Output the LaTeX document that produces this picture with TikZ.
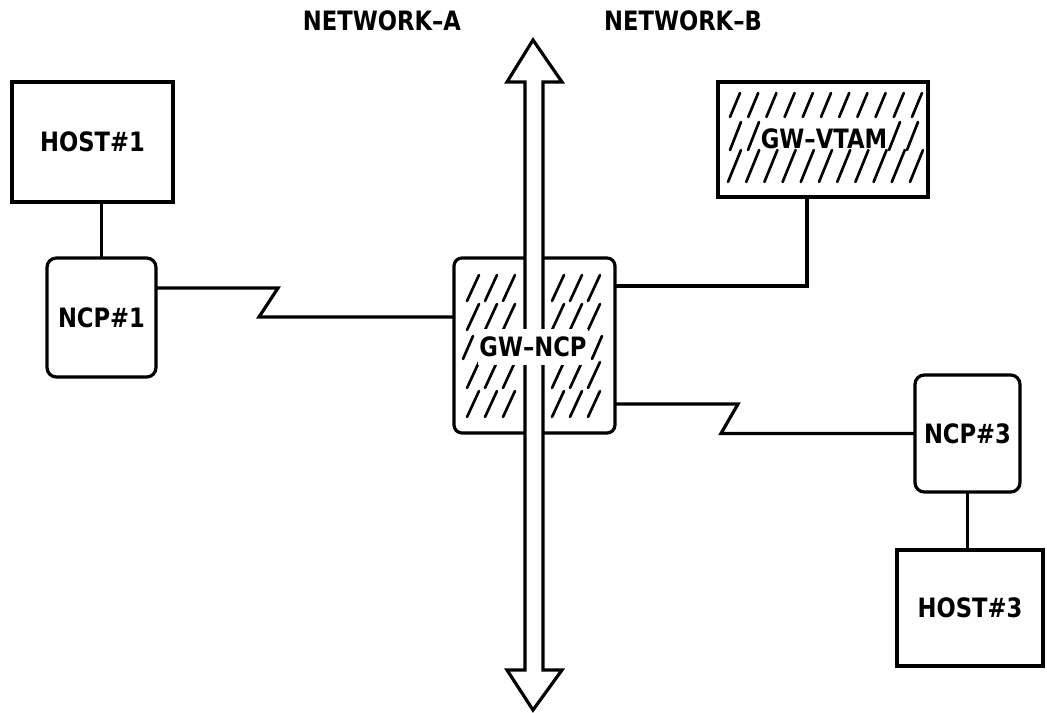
\documentclass[tikz,border=0pt]{standalone}
\usepackage{fontspec}
\setmainfont{DejaVu Sans}
\newfontfamily\lblfont{DejaVu Sans Bold}[FakeStretch=0.85]
\usetikzlibrary{calc}
\begin{document}
\begin{tikzpicture}[x=0.75pt,y=-0.75pt,
  every node/.style={font=\lblfont\fontsize{20}{22}\selectfont},
  lw/.style={line width=2.4pt},
  sqbox/.style={draw,lw,rectangle,inner sep=0pt,outer sep=0pt},
  rbox/.style={sqbox,rounded corners=7pt},
  hatch/.style={line width=2pt,line cap=round},
  lbl/.style={fill=white,inner xsep=1pt,inner ysep=6pt},
  conn/.style={lw,line join=miter}]
\useasboundingbox (0,0) rectangle (1047,713);

% boxes
\node[sqbox,minimum width=120.75pt,minimum height=90pt] (host1) at (92.5,142) {HOST\#1};
\node[rbox,minimum width=81.75pt,minimum height=89.25pt] (ncp1) at (101.5,317.5) {NCP\#1};
\node[rbox,rounded corners=6pt,minimum width=120.75pt,minimum height=131.25pt] (gwncp) at (534.5,345.5) {};
\node[sqbox,minimum width=157.5pt,minimum height=86.25pt] (gwvtam) at (823,139.5) {};
\node[rbox,minimum width=78.75pt,minimum height=87.75pt] (ncp3) at (967.5,433.5) {NCP\#3};
\node[sqbox,minimum width=109.5pt,minimum height=87pt] (host3) at (970,608) {HOST\#3};

% hatching of GW-NCP
\foreach \yb in {301,330,388,417}
  \foreach \xb in {467,485,503,552,570,588}
    {\draw[hatch] (\xb,\yb) -- ++(12,-26);}
\draw[hatch] (463,359) -- ++(10,-23);
\draw[hatch] (592,359) -- ++(10,-23);

% hatching of GW-VTAM
\foreach \k in {0,...,10} {\draw[hatch] (730+18.2*\k,117) -- ++(10,-24);}
\foreach \k in {0,...,10} {\draw[hatch] (728+18.2*\k,182) -- ++(13,-32);}
\foreach \xb in {730,748,889,907} {\draw[hatch] (\xb,150) -- ++(11,-28);}

% double-headed arrow
\draw[lw,fill=white,line join=miter] (533,40) -- (562,82) -- (543,82) -- (543,670) -- (562,670)
  -- (533,710) -- (507,670) -- (525,670) -- (525,82) -- (507,82) -- cycle;

% labels
\node[lbl] (gwncpl) at (533,347) {GW\textendash NCP};
\node (gwvtaml) at (824,139) {GW\textendash VTAM};
\node (neta) at (382,21) {NETWORK\textendash A};
\node (netb) at (683,21) {NETWORK\textendash B};

% connectors
\draw[conn] (ncp1.north) -- (ncp1.north |- host1.south);
\draw[conn] ($(ncp1.north east)+(0,30)$) -- ++(122,0) -- ($(gwncp.north west)+(-195,59)$) -- ($(gwncp.north west)+(0,59)$);
\draw[conn] ($(gwncp.north east)+(0,28)$) -| ($(gwvtam.south)+(-16,0)$);
\draw[conn] ($(gwncp.north east)+(0,146)$) -- ++(123,0) -- ($(ncp3.west)+(-194,0)$) -- (ncp3.west);
\draw[conn] (ncp3.south) -- (ncp3.south |- host3.north);
\end{tikzpicture}
\end{document}
